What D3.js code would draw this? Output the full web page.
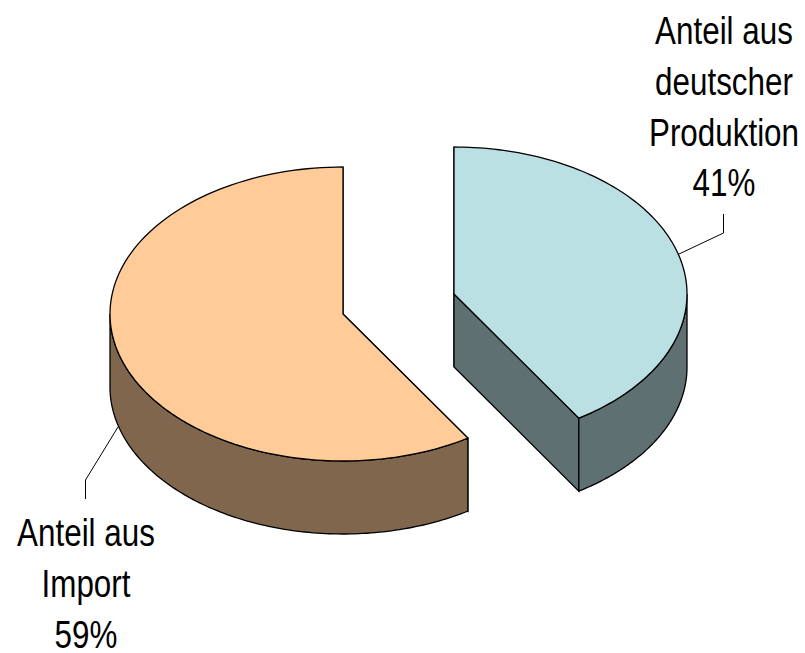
<!DOCTYPE html>
<html>
<head>
<meta charset="utf-8">
<script src="https://cdn.jsdelivr.net/npm/d3@7"></script>
<style>
html, body { margin: 0; padding: 0; background: #fff; }
text { font-family: "Liberation Sans", Arial, sans-serif; font-size: 38px; fill: #000; }
</style>
</head>
<body>
<script>
var categories = ["Anteil aus deutscher Produktion", "Anteil aus Import"];
var shares = [41, 59];
var topColors = ["#bbe0e3", "#ffcc99"];
var sideColors = ["#5e7072", "#7f664c"];
var labelLines = [["Anteil aus", "deutscher", "Produktion", "41%"], ["Anteil aus", "Import", "59%"]];

var svg = d3.select("body").append("svg")
    .attr("width", 805)
    .attr("height", 653)
    .style("display", "block");

// slices are pulled apart, so each one has its own centre
var centers = [[454, 294], [343, 314]];
var rx = 233, ry = 147, depth = 73;

var pie = d3.pie().sort(null);
var slices = pie(shares);

var lineGen = d3.line();

function pt(c, a, dy) {
    return [c[0] + rx * Math.sin(a), c[1] - ry * Math.cos(a) + dy];
}

// points along the rim between two angles
function rim(c, a0, a1, dy) {
    return d3.range(0, 121).map(function (i) {
        return pt(c, a0 + (a1 - a0) * i / 120, dy);
    });
}

function drawSlice(s, i) {
    var c = centers[i];
    var g = svg.append("g")
        .attr("stroke", "#000")
        .attr("stroke-width", 1.3);
    var a0 = s.startAngle, a1 = s.endAngle;

    // cut walls
    [a0, a1].forEach(function (a) {
        var wall = [[c[0], c[1]], pt(c, a, 0), pt(c, a, depth), [c[0], c[1] + depth]];
        g.append("path")
            .attr("d", lineGen(wall) + "Z")
            .attr("fill", sideColors[i]);
    });

    // outer wall, only the part facing the viewer
    var w0 = Math.max(a0, Math.PI / 2), w1 = Math.min(a1, Math.PI * 1.5);
    var outer = rim(c, w0, w1, 0).concat(rim(c, w1, w0, depth));
    g.append("path")
        .attr("d", lineGen(outer) + "Z")
        .attr("fill", sideColors[i]);

    // top face
    var top = [c].concat(rim(c, a0, a1, 0));
    g.append("path")
        .attr("d", lineGen(top) + "Z")
        .attr("fill", topColors[i]);
}

// back slice first
drawSlice(slices[1], 1);
drawSlice(slices[0], 0);

// leader lines
var leaders = [
    [[679, 254], [723.5, 233], [723.5, 214]],
    [[118, 427], [85.5, 480], [85.5, 499]]
];
leaders.forEach(function (l) {
    svg.append("path")
        .attr("d", lineGen(l))
        .attr("fill", "none")
        .attr("stroke", "#000");
});

// labels, squeezed sideways like the original
var labelPos = [[724, 44], [86, 546]];
labelLines.forEach(function (lines, i) {
    var t = svg.append("text")
        .attr("text-anchor", "middle")
        .attr("transform", "translate(" + labelPos[i][0] + "," + labelPos[i][1] + ") scale(0.826,1)");
    lines.forEach(function (l, j) {
        t.append("tspan")
            .attr("x", 0)
            .attr("y", j * 50.8)
            .text(l);
    });
});
</script>
</body>
</html>
